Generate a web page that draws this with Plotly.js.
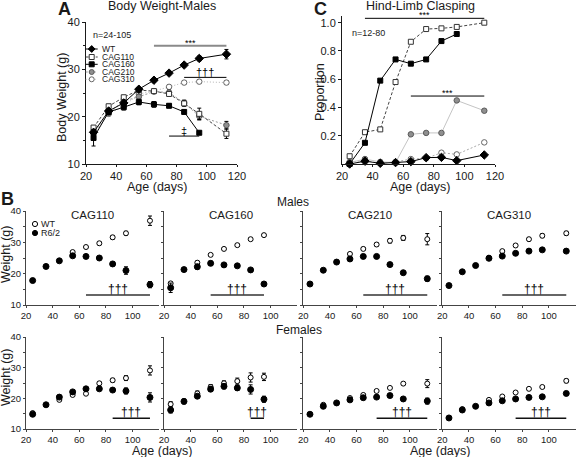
<!DOCTYPE html>
<html><head><meta charset="utf-8">
<script src="https://cdn.plot.ly/plotly-3.0.1.min.js"></script>
<style>html,body{margin:0;padding:0;background:#fff}#chart{width:576px;height:457px}</style>
</head><body><div id="chart"></div>
<script>
// ---------------- DATA ----------------
const ages = [25, 35, 45, 55, 65, 75, 85, 95, 113];
const agesTo95 = [25, 35, 45, 55, 65, 75, 85, 95];
const seriesNames = ['WT', 'CAG110', 'CAG160', 'CAG210', 'CAG310'];

// Panel A: body weight, males (g)
const aWT = [16.7, 21.2, 22.9, 25.8, 27.7, 29.2, 30.9, 32.3, 33.2];
const aWTerr = [0.5, 0.4, 0.4, 0.4, 0.4, 0.4, 0.4, 0.5, 1.0];
const aCAG110 = [17.7, 22.2, 24.1, 25.6, 25.4, 24.8, 22.8, 20.6, 16.4];
const aCAG110err = [0.4, 0.4, 0.4, 0.4, 0.4, 0.5, 0.6, 1.2, 1.0];
const aCAG160 = [15.5, 21.0, 22.0, 23.1, 22.6, 22.3, 21.0, 16.6];
const aCAG160err = [1.7, 0.5, 0.6, 0.6, 0.6, 0.4, 0.4, 0.3];
const aCAG210 = [16.3, 20.8, 23.3, 24.2, 25.3, 25.1, 22.9, 20.1, 18.2];
const aCAG210err = [0.4, 0.4, 0.5, 0.5, 0.4, 0.5, 0.6, 0.8, 0.8];
const aCAG310 = [16.9, 20.6, 22.2, 24.8, 25.4, 26.3, 27.2, 27.4, 27.2];
const aCAG310err = [0.4, 0.4, 0.4, 0.4, 0.4, 0.4, 0.4, 0.4, 0.4];

// Panel C: hind-limb clasping proportion
const cWT = [0.0, 0.02, 0.005, 0.01, 0.017, 0.045, 0.047, 0.024, 0.064];
const cCAG110 = [0.055, 0.225, 0.245, 0.58, 0.865, 0.955, 0.96, 0.97, 1.0];
const cCAG160 = [0.0, 0.15, 0.59, 0.74, 0.71, 0.74, 0.87, 0.92];
const cCAG210 = [0.01, 0.035, 0.015, 0.01, 0.21, 0.22, 0.22, 0.45, 0.377];
const cCAG310 = [0.015, 0.025, 0.005, 0.015, 0.035, 0.04, 0.08, 0.068, 0.153];
const cYTicks = [0.2, 0.4, 0.6, 0.8, 1.0];

// Panel B: weights per line, WT vs R6/2
const bGenotypes = ['CAG110', 'CAG160', 'CAG210', 'CAG310'];
const bAges = [ages, agesTo95, ages, ages];
// males
const m110R = [17.8, 22.3, 24.1, 25.7, 25.5, 25.0, 23.1, 21.0, 16.5];
const m110Rerr = [0.3, 0.4, 0.4, 0.5, 0.4, 0.4, 0.6, 1.2, 1.0];
const m110W = [null, null, null, 26.9, 28.5, 29.7, 31.6, 32.9, 36.9];
const m110Werr = [0, 0, 0, 0.4, 0.4, 0.5, 0.6, 0.6, 1.5];
const m160R = [15.5, 21.3, 22.2, 23.3, 22.8, 22.5, 21.2, 16.7];
const m160Rerr = [1.5, 0.5, 0.8, 0.7, 0.5, 0.4, 0.4, 0.3];
const m160W = [16.9, null, 23.5, 26.0, 27.9, 29.1, 31.0, 32.3];
const m160Werr = [0.4, 0, 0.5, 0.4, 0.4, 0.4, 0.4, 0.4];
const m210R = [16.7, 21.1, 23.7, 24.7, 25.5, 25.5, 22.9, 20.3, 18.4];
const m210Rerr = [0.3, 0.3, 0.5, 0.4, 0.4, 0.4, 0.5, 0.5, 0.8];
const m210W = [null, null, null, 26.3, 27.9, 29.3, 30.5, 31.4, 31.0];
const m210Werr = [0, 0, 0, 0.4, 0.5, 0.5, 0.7, 0.8, 1.8];
const m310R = [16.2, 20.6, 22.6, 24.9, 25.6, 26.5, 27.2, 27.6, 27.2];
const m310Rerr = [0.3, 0.3, 0.4, 0.4, 0.4, 0.4, 0.4, 0.4, 0.4];
const m310W = [null, null, null, 25.1, 27.2, 29.0, 31.0, 32.1, 32.9];
const m310Werr = [0, 0, 0, 0.3, 0.4, 0.4, 0.5, 0.6, 0.6];
// females
const f110R = [14.8, 17.9, 20.4, 22.1, 23.1, 23.1, 22.7, 22.4, 20.3];
const f110Rerr = [0.3, 0.3, 0.4, 0.4, 0.4, 0.4, 0.5, 1.0, 1.5];
const f110W = [15.2, null, 19.5, 21.1, 21.5, 24.9, 25.9, 26.6, 29.1];
const f110Werr = [0.3, 0, 0.3, 0.3, 0.3, 0.5, 0.6, 0.8, 1.5];
const f160R = [16.2, 19.0, 20.7, 23.0, 23.9, 23.4, 22.9, 19.7];
const f160Rerr = [1.0, 0.8, 0.6, 0.8, 0.8, 0.8, 1.5, 1.0];
const f160W = [18.1, null, 21.6, 23.7, 24.9, 25.6, 26.8, 27.0];
const f160Werr = [0.8, 0, 0.8, 0.8, 0.8, 1.0, 1.5, 1.2];
const f210R = [14.8, 17.4, 18.5, 19.5, 20.2, 20.4, 20.9, 19.8, 19.1];
const f210Rerr = [0.3, 0.3, 0.3, 0.3, 0.3, 0.3, 0.4, 0.4, 1.0];
const f210W = [null, 17.9, null, 20.1, 21.1, 22.4, 23.4, 24.8, 24.8];
const f210Werr = [0, 0.3, 0, 0.3, 0.3, 0.3, 0.4, 0.4, 1.3];
const f310R = [13.6, 16.2, 17.4, 18.5, 19.2, 19.8, 20.3, 20.5, 21.6];
const f310Rerr = [0.3, 0.3, 0.3, 0.3, 0.3, 0.3, 0.3, 0.3, 0.5];
const f310W = [null, 16.5, null, 19.5, 20.6, 21.9, 23.1, 23.7, 25.7];
const f310Werr = [0, 0.3, 0, 0.3, 0.3, 0.3, 0.4, 0.4, 0.6];

const maleR = [m110R, m160R, m210R, m310R];
const maleRerr = [m110Rerr, m160Rerr, m210Rerr, m310Rerr];
const maleW = [m110W, m160W, m210W, m310W];
const maleWerr = [m110Werr, m160Werr, m210Werr, m310Werr];
const femR = [f110R, f160R, f210R, f310R];
const femRerr = [f110Rerr, f160Rerr, f210Rerr, f310Rerr];
const femW = [f110W, f160W, f210W, f310W];
const femWerr = [f110Werr, f160Werr, f210Werr, f310Werr];

// significance bars: [start age, end age, level]
const aSigStars = [65, 113, 35.0];
const aSigDaggers = [85, 113, 28.3];
const aSigDD = [75, 95, 15.9];
const cSigTop = [35, 113, 1.031];
const cSigLow = [65, 113, 0.481];
const bSigMale = [[65, 113], [55, 95], [65, 113], [65, 113]];
const bSigFemale = [[85, 113], [85, 95], [75, 113], [75, 113]];
const bSigMaleLevel = 13.2;
const bSigFemaleLevel = 13.5;

// ---------------- LAYOUT HELPERS ----------------
const W = 576, H = 457;
const px = p => p / W;
const py = p => 1 - p / H;
const FONT = 'Liberation Sans, Arial, sans-serif';
const INK = '#1a1a1a';

const styles = {
  WT:     {sym: 'diamond', size: 6.5, fill: '#000', edge: '#000', lc: '#000', dash: 'solid', cdash: 'solid', clc: '#000'},
  CAG110: {sym: 'square',  size: 5, fill: '#fff', edge: '#333', lc: '#444', dash: '3px,2px', cdash: '3px,2px', clc: '#444'},
  CAG160: {sym: 'square',  size: 5, fill: '#000', edge: '#000', lc: '#000', dash: 'solid', cdash: 'solid', clc: '#000'},
  CAG210: {sym: 'circle',  size: 5.5, fill: '#8f8f8f', edge: '#5a5a5a', lc: '#9a9a9a', dash: '2px,2px', cdash: 'solid', clc: '#c4c4c4'},
  CAG310: {sym: 'circle',  size: 5.5, fill: '#fff', edge: '#666', lc: '#b5b5b5', dash: '1px,2px', cdash: '2px,2px', clc: '#aaaaaa'}
};

function seriesTrace(x, y, err, st, xa, ya, dash, lc) {
  return {
    type: 'scatter', mode: 'lines+markers', x: x, y: y, xaxis: xa, yaxis: ya,
    cliponaxis: false, showlegend: false, hoverinfo: 'skip',
    line: {color: lc, width: 1, dash: dash},
    marker: {symbol: st.sym, size: st.size, color: st.fill, line: {color: st.edge, width: 1}},
    error_y: err ? {type: 'data', array: err, visible: true, color: '#000', thickness: 1, width: 2} : {visible: false}
  };
}

const traces = [];
// Panel A (draw order: 310, 210, 110, 160, WT)
traces.push(seriesTrace(ages, aCAG310, aCAG310err, styles.CAG310, 'x', 'y', styles.CAG310.dash, styles.CAG310.lc));
traces.push(seriesTrace(ages, aCAG210, aCAG210err, styles.CAG210, 'x', 'y', styles.CAG210.dash, styles.CAG210.lc));
traces.push(seriesTrace(ages, aCAG110, aCAG110err, styles.CAG110, 'x', 'y', styles.CAG110.dash, styles.CAG110.lc));
traces.push(seriesTrace(agesTo95, aCAG160, aCAG160err, styles.CAG160, 'x', 'y', styles.CAG160.dash, styles.CAG160.lc));
traces.push(seriesTrace(ages, aWT, aWTerr, styles.WT, 'x', 'y', styles.WT.dash, styles.WT.lc));
// Panel C
traces.push(seriesTrace(ages, cCAG310, null, styles.CAG310, 'x2', 'y2', styles.CAG310.cdash, styles.CAG310.clc));
traces.push(seriesTrace(ages, cCAG210, null, styles.CAG210, 'x2', 'y2', styles.CAG210.cdash, styles.CAG210.clc));
traces.push(seriesTrace(ages, cWT, null, styles.WT, 'x2', 'y2', styles.WT.cdash, styles.WT.clc));
traces.push(seriesTrace(ages, cCAG110, null, styles.CAG110, 'x2', 'y2', styles.CAG110.cdash, styles.CAG110.clc));
traces.push(seriesTrace(agesTo95, cCAG160, null, styles.CAG160, 'x2', 'y2', styles.CAG160.cdash, styles.CAG160.clc));

// Panel B
function dotTrace(x, y, err, filled, xa, ya) {
  return {
    type: 'scatter', mode: 'markers', x: x, y: y, xaxis: xa, yaxis: ya,
    cliponaxis: false, showlegend: false, hoverinfo: 'skip',
    marker: {symbol: 'circle', size: filled ? 6 : 5, color: filled ? '#000' : '#fff', line: {color: '#000', width: 1}},
    error_y: {type: 'data', array: err, visible: true, color: '#000', thickness: 1, width: 2}
  };
}
const bRows = [[maleW, maleWerr, maleR, maleRerr], [femW, femWerr, femR, femRerr]];
bRows.forEach((row, r) => {
  for (let i = 0; i < 4; i++) {
    const n = 3 + r * 4 + i;
    traces.push(dotTrace(bAges[i], row[0][i], row[1][i], false, 'x' + n, 'y' + n));
    traces.push(dotTrace(bAges[i], row[2][i], row[3][i], true, 'x' + n, 'y' + n));
  }
});

// ---------------- AXES ----------------
function axBase(extra) {
  return Object.assign({
    showline: true, linecolor: INK, linewidth: 1, ticks: 'outside', ticklen: 3, tickwidth: 1,
    tickcolor: INK, showgrid: false, zeroline: false, fixedrange: true,
    tickfont: {size: 11, color: INK, family: FONT}
  }, extra);
}
const layout = {
  width: W, height: H, margin: {l: 0, r: 0, t: 0, b: 0},
  paper_bgcolor: '#fff', plot_bgcolor: 'rgba(0,0,0,0)',
  font: {family: FONT, color: INK}, showlegend: false,
  xaxis: axBase({domain: [px(86), px(237)], anchor: 'y', range: [20, 120], tickvals: [20, 40, 60, 80, 100, 120], ticklen: 2}),
  yaxis: axBase({domain: [py(164), py(22)], anchor: 'x', range: [10, 40], tickvals: [10, 20, 30, 40],
                 minor: {dtick: 5, ticks: 'outside', ticklen: 2, tickcolor: INK}}),
  xaxis2: axBase({domain: [px(342), px(495)], anchor: 'y2', range: [20, 120], tickvals: [20, 40, 60, 80, 100, 120], ticklen: 2}),
  yaxis2: axBase({domain: [py(164), py(164 - 1.05 * 141.3)], anchor: 'x2', range: [0, 1.05],
                  tickvals: cYTicks, ticktext: cYTicks.map(v => v.toFixed(1))}),
  shapes: [], annotations: []
};
const bDomX = [[px(26), px(159.3)], [px(164), px(297.3)], [px(303.3), px(436.6)], [px(442.3), px(575.6)]];
const bDomY = [[py(305), py(211)], [py(429), py(337)]];
for (let r = 0; r < 2; r++) {
  for (let i = 0; i < 4; i++) {
    const n = 3 + r * 4 + i;
    layout['xaxis' + n] = axBase({domain: bDomX[i], anchor: 'y' + n, range: [20, 120], tickvals: [20, 40, 60, 80, 100],
      ticklen: 2, tickfont: {size: 9.5, color: INK, family: FONT}, linecolor: '#444', tickcolor: '#444'});
    layout['yaxis' + n] = axBase({domain: bDomY[r], anchor: 'x' + n, range: [10, 40], tickvals: [10, 20, 30, 40],
      ticklen: 2, showticklabels: i === 0, tickfont: {size: 9.5, color: INK, family: FONT}, linecolor: '#444', tickcolor: '#444',
      minor: {dtick: 5, ticks: 'outside', ticklen: 2, tickcolor: '#444'}});
  }
}

// ---------------- SHAPES (significance bars, legend samples) ----------------
function sigLine(sig, level, xa, ya, color, width) {
  layout.shapes.push({type: 'line', xref: xa, yref: ya, x0: sig[0], x1: sig[1], y0: level, y1: level,
    line: {color: color, width: width}});
}
function sigText(text, sig, level, xa, ya, size, yshift) {
  layout.annotations.push({xref: xa, yref: ya, x: (sig[0] + sig[1]) / 2, y: level, text: text,
    showarrow: false, xanchor: 'center', yanchor: 'bottom', yshift: yshift, font: {size: size, color: '#000'}});
}
sigLine(aSigStars, aSigStars[2], 'x', 'y', '#8a8a8a', 2);
sigText('***', aSigStars, aSigStars[2], 'x', 'y', 9, -4);
sigLine(aSigDaggers, aSigDaggers[2], 'x', 'y', '#000', 1);
sigText('†††', aSigDaggers, aSigDaggers[2], 'x', 'y', 11, -3);
sigLine(aSigDD, aSigDD[2], 'x', 'y', '#000', 1);
sigText('‡', aSigDD, aSigDD[2], 'x', 'y', 11, -3);
sigLine(cSigTop, cSigTop[2], 'x2', 'y2', '#000', 1);
sigText('***', cSigTop, cSigTop[2], 'x2', 'y2', 9, -4);
sigLine(cSigLow, cSigLow[2], 'x2', 'y2', '#000', 1);
sigText('***', cSigLow, cSigLow[2], 'x2', 'y2', 9, -4);
for (let i = 0; i < 4; i++) {
  sigLine(bSigMale[i], bSigMaleLevel, 'x' + (3 + i), 'y' + (3 + i), '#666', 2);
  sigText('†††', bSigMale[i], bSigMaleLevel, 'x' + (3 + i), 'y' + (3 + i), 12, -3);
  sigLine(bSigFemale[i], bSigFemaleLevel, 'x' + (7 + i), 'y' + (7 + i), '#111', 1.3);
  sigText('†††', bSigFemale[i], bSigFemaleLevel, 'x' + (7 + i), 'y' + (7 + i), 12, -3);
}

// Legend for panel A (custom, compact)
const legendRowsPy = [49, 57, 64.3, 72, 79.3];
seriesNames.forEach((name, k) => {
  const st = styles[name];
  const xa = px(85.7), ya = py(legendRowsPy[k]);
  layout.shapes.push({type: 'line', xref: 'paper', yref: 'paper', xsizemode: 'pixel', xanchor: xa,
    x0: 0, x1: 12, y0: ya, y1: ya, line: {color: st.lc, width: 1, dash: st.dash}});
  const m = {xref: 'paper', yref: 'paper', xsizemode: 'pixel', ysizemode: 'pixel', xanchor: xa, yanchor: ya,
    fillcolor: st.fill, line: {color: st.edge, width: 1}};
  if (st.sym === 'diamond') {
    layout.shapes.push(Object.assign(m, {type: 'path', path: 'M6,3.4 L9.4,0 L6,-3.4 L2.6,0 Z'}));
  } else {
    layout.shapes.push(Object.assign(m, {type: st.sym === 'square' ? 'rect' : 'circle', x0: 3.5, x1: 8.5, y0: -2.5, y1: 2.5}));
  }
  layout.annotations.push({xref: 'paper', yref: 'paper', x: px(99.5), y: ya, xanchor: 'left', yanchor: 'middle',
    text: name, showarrow: false, font: {size: 8.5, color: INK}});
});
// Legend for panel B
[['WT', '#fff', 224], ['R6/2', '#000', 233]].forEach(e => {
  layout.shapes.push({type: 'circle', xref: 'paper', yref: 'paper', xsizemode: 'pixel', ysizemode: 'pixel',
    xanchor: px(35), yanchor: py(e[2]), x0: -2.6, x1: 2.6, y0: -2.6, y1: 2.6, fillcolor: e[1], line: {color: '#000', width: 1}});
  layout.annotations.push({xref: 'paper', yref: 'paper', x: px(39), y: py(e[2]), xanchor: 'left', yanchor: 'middle',
    text: e[0], showarrow: false, font: {size: 9, color: INK}});
});

// ---------------- TEXT ----------------
function txt(text, xp, yp, size, opts) {
  layout.annotations.push(Object.assign({xref: 'paper', yref: 'paper', x: px(xp), y: py(yp), text: text,
    showarrow: false, xanchor: 'center', yanchor: 'middle', font: {size: size, color: INK}}, opts || {}));
}
txt('<b>A</b>', 64.5, -3, 18, {yanchor: 'top'});
txt('<b>B</b>', -1, 187, 18, {yanchor: 'top', xanchor: 'left'});
txt('<b>C</b>', 320, -3, 18, {yanchor: 'top'});
txt('Body Weight-Males', 161.7, 6, 12.5);
txt('Hind-Limb Clasping', 420, 6, 12.5);
txt('Body Weight (g)', 62, 98, 12.5, {textangle: -90});
txt('Age (days)', 157, 186.5, 12.5);
txt('Proportion', 320, 92, 12.5, {textangle: -90});
txt('Age (days)', 420, 186.5, 12.5);
txt('n=24-105', 90.5, 35, 9, {xanchor: 'left'});
txt('n=12-80', 349.5, 33, 9, {xanchor: 'left'});
txt('Males', 293, 202, 12);
txt('Females', 299, 330, 12);
txt('Weight (g)', 6, 255, 12.5, {textangle: -90});
txt('Weight (g)', 6, 378, 12.5, {textangle: -90});
txt('Age (days)', 162, 451, 12.5);
txt('Age (days)', 440, 451, 12.5);
bGenotypes.forEach((g, i) => {
  layout.annotations.push({xref: 'x' + (3 + i) + ' domain', yref: 'paper', x: 0.5, y: py(215), text: g,
    showarrow: false, xanchor: 'center', yanchor: 'middle', font: {size: 11.5, color: INK}});
});

Plotly.newPlot('chart', traces, layout, {staticPlot: true, displayModeBar: false});
</script></body></html>
